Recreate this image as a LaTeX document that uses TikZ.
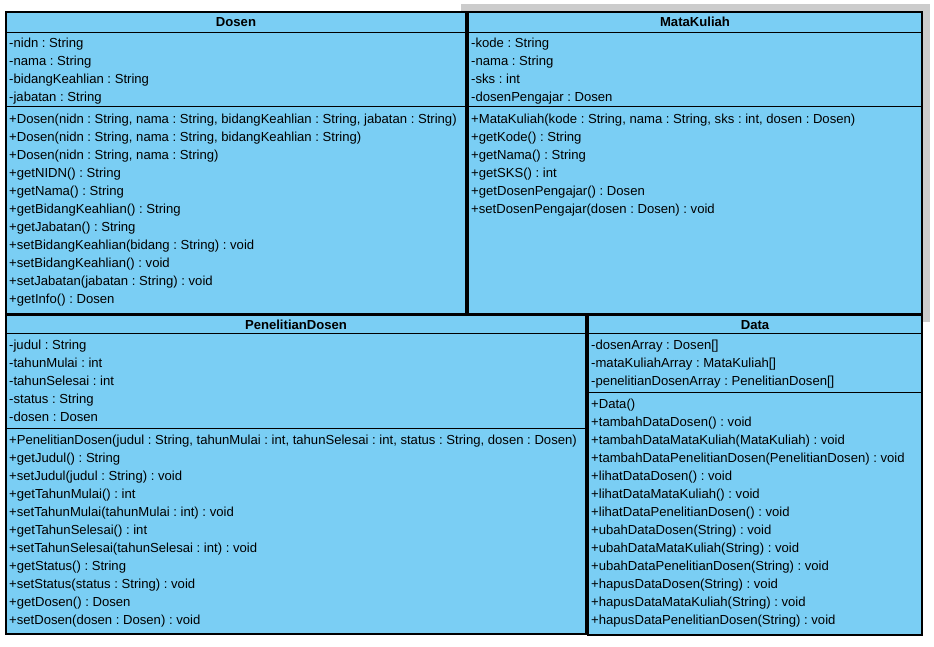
\documentclass[tikz,border=0pt]{standalone}
\usepackage{fontspec}
\setmainfont{Liberation Sans}
\frenchspacing
\definecolor{classblue}{RGB}{122,206,244}
\definecolor{shadowgray}{RGB}{204,204,204}
\tikzset{
  classbox/.style={draw=black, line width=1.2pt, fill=classblue},
  divider/.style={draw=black, line width=0.9pt},
  classname/.style={anchor=base, inner sep=0pt, font=\bfseries\fontsize{13.1}{15}\selectfont},
  member/.style={anchor=base west, inner sep=0pt, font=\fontsize{13.1}{15}\selectfont}
}
\begin{document}
\begin{tikzpicture}[x=1pt,y=-1pt]
\useasboundingbox (0,0) rectangle (934,646);
% Shadow behind MataKuliah
\fill[shadowgray] (461,4) rectangle (930,322);
% Dosen
\draw[classbox] (6,12) rectangle (466,314);
\draw[divider] (6,32) -- (466,32);
\draw[divider] (6,106) -- (466,106);
\node[classname] (dosen) at (236,26.5) {Dosen};
\foreach \t [count=\i] in {-nidn : String, -nama : String,
    -bidangKeahlian : String, -jabatan : String}
  \node[member] (dosen-a\i) at (9,29.5+18*\i) {\t};
\foreach \t [count=\i] in {
    {+Dosen(nidn : String, nama : String, bidangKeahlian : String, jabatan : String)},
    {+Dosen(nidn : String, nama : String, bidangKeahlian : String)},
    {+Dosen(nidn : String, nama : String)},
    +getNIDN() : String, +getNama() : String,
    +getBidangKeahlian() : String, +getJabatan() : String,
    +setBidangKeahlian(bidang : String) : void,
    +setBidangKeahlian() : void,
    +setJabatan(jabatan : String) : void, +getInfo() : Dosen}
  \node[member] (dosen-m\i) at (9,105.5+18*\i) {\t};
% MataKuliah
\draw[classbox] (468,12) rectangle (922,314);
\draw[divider] (468,32) -- (922,32);
\draw[divider] (468,106) -- (922,106);
\node[classname] (matakuliah) at (695,26.5) {MataKuliah};
\foreach \t [count=\i] in {-kode : String, -nama : String,
    -sks : int, -dosenPengajar : Dosen}
  \node[member] (mk-a\i) at (471,29.5+18*\i) {\t};
\foreach \t [count=\i] in {
    {+MataKuliah(kode : String, nama : String, sks : int, dosen : Dosen)},
    +getKode() : String, +getNama() : String, +getSKS() : int,
    +getDosenPengajar() : Dosen,
    +setDosenPengajar(dosen : Dosen) : void}
  \node[member] (mk-m\i) at (471,105.5+18*\i) {\t};
% PenelitianDosen
\draw[classbox] (6,315) rectangle (586,634);
\draw[divider] (6,333) -- (586,333);
\draw[divider] (6,428) -- (586,428);
\node[classname] (penelitian) at (296,329.5) {PenelitianDosen};
\foreach \t [count=\i] in {-judul : String, -tahunMulai : int,
    -tahunSelesai : int, -status : String, -dosen : Dosen}
  \node[member] (pd-a\i) at (9,331.5+18*\i) {\t};
\foreach \t [count=\i] in {
    {+PenelitianDosen(judul : String, tahunMulai : int, tahunSelesai : int, status : String, dosen : Dosen)},
    +getJudul() : String, +setJudul(judul : String) : void,
    +getTahunMulai() : int, +setTahunMulai(tahunMulai : int) : void,
    +getTahunSelesai() : int,
    +setTahunSelesai(tahunSelesai : int) : void,
    +getStatus() : String, +setStatus(status : String) : void,
    +getDosen() : Dosen, +setDosen(dosen : Dosen) : void}
  \node[member] (pd-m\i) at (9,426.5+18*\i) {\t};
% Data
\draw[classbox] (588,315) rectangle (922,635);
\draw[divider] (588,333) -- (922,333);
\draw[divider] (588,392) -- (922,392);
\node[classname] (data) at (755,329.5) {Data};
\foreach \t [count=\i] in {-dosenArray : Dosen[],
    -mataKuliahArray : MataKuliah[],
    -penelitianDosenArray : PenelitianDosen[]}
  \node[member] (data-a\i) at (591,331.5+18*\i) {\t};
\foreach \t [count=\i] in {+Data(), +tambahDataDosen() : void,
    +tambahDataMataKuliah(MataKuliah) : void,
    +tambahDataPenelitianDosen(PenelitianDosen) : void,
    +lihatDataDosen() : void, +lihatDataMataKuliah() : void,
    +lihatDataPenelitianDosen() : void,
    +ubahDataDosen(String) : void, +ubahDataMataKuliah(String) : void,
    +ubahDataPenelitianDosen(String) : void,
    +hapusDataDosen(String) : void, +hapusDataMataKuliah(String) : void,
    +hapusDataPenelitianDosen(String) : void}
  \node[member] (data-m\i) at (591,390.5+18*\i) {\t};
\end{tikzpicture}
\end{document}
